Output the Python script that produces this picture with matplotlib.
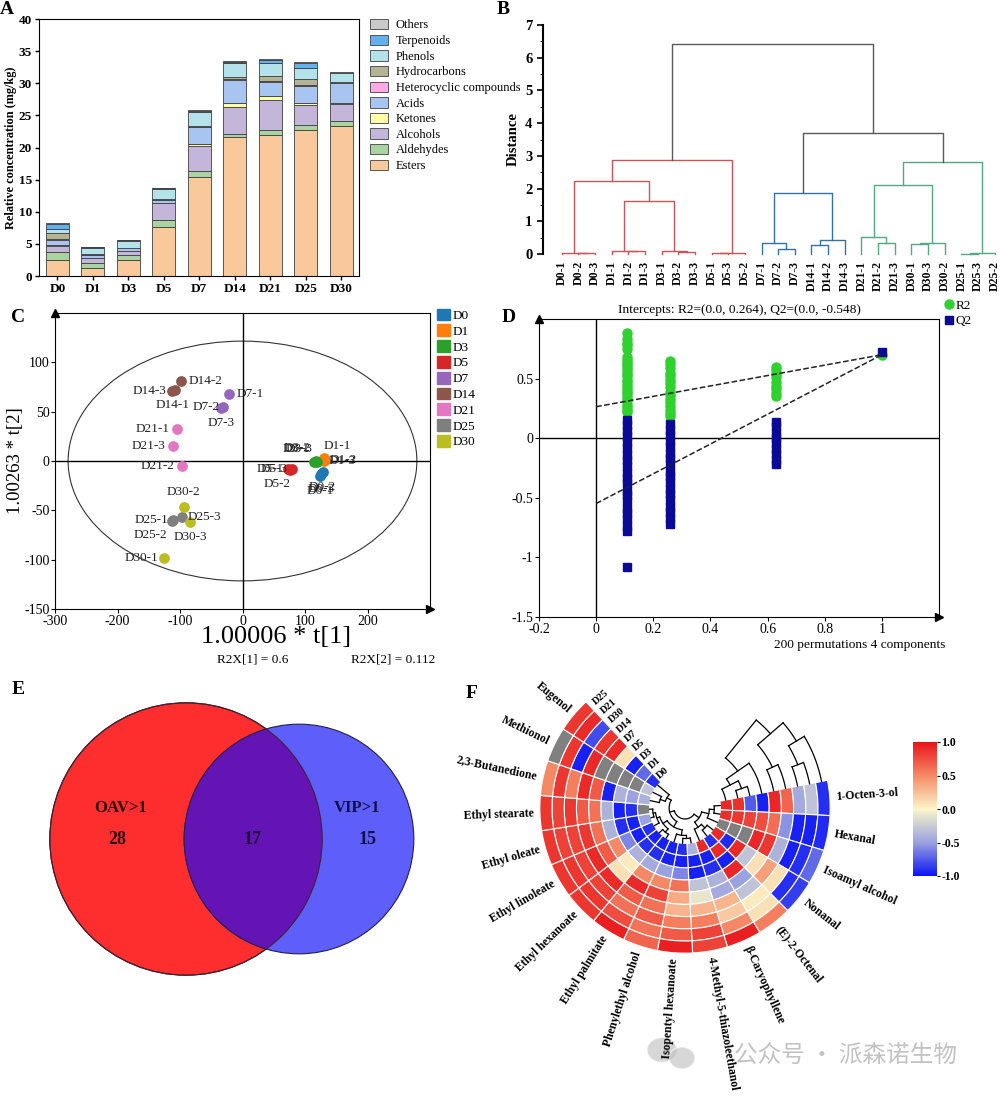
import numpy as np
import matplotlib
matplotlib.use('Agg')
import matplotlib.pyplot as plt
from matplotlib.patches import Circle, Ellipse
from matplotlib.colors import LinearSegmentedColormap, Normalize
from matplotlib.cm import ScalarMappable

plt.rcParams['font.family'] = ['Liberation Serif', 'DejaVu Serif']
plt.rcParams['axes.unicode_minus'] = False

# ---------------- A: stacked bars ----------------
days = ['D0', 'D1', 'D3', 'D5', 'D7', 'D14', 'D21', 'D25', 'D30']
classes = ['Esters', 'Aldehydes', 'Alcohols', 'Ketones', 'Acids', 'Heterocyclic compounds',
           'Hydrocarbons', 'Phenols', 'Terpenoids', 'Others']
esters = [2.5, 1.2, 2.5, 7.6, 15.4, 21.7, 22.0, 22.8, 23.4]
aldehydes = [1.2, 0.8, 0.7, 1.15, 1.0, 0.4, 0.7, 0.7, 0.65]
alcohols = [1.0, 0.75, 0.7, 2.6, 3.85, 4.2, 4.7, 3.15, 2.7]
ketones = [0.05, 0.05, 0.05, 0.05, 0.35, 0.6, 0.6, 0.25, 0.25]
acids = [0.9, 0.5, 0.35, 0.4, 2.6, 3.6, 2.2, 2.7, 3.0]
heterocyclic = [0.05, 0.02, 0.02, 0.05, 0.05, 0.1, 0.1, 0.1, 0.1]
hydrocarbons = [1.0, 0.1, 0.1, 0.2, 0.15, 0.3, 0.9, 0.9, 0.15]
phenols = [0.65, 1.0, 1.1, 1.5, 2.2, 2.2, 2.0, 1.7, 1.3]
terpenoids = [0.75, 0.05, 0.05, 0.1, 0.15, 0.15, 0.4, 0.9, 0.1]
others = [0.15, 0.05, 0.05, 0.05, 0.1, 0.15, 0.2, 0.1, 0.1]
class_colors = ['#f9c89b', '#a9d4a2', '#c3b6da', '#ffffa6', '#a8c4f0', '#ffa8e8',
                '#b4b394', '#b3e2ea', '#62b0f0', '#c9c9c9']

# ---------------- B: HCA dendrogram ----------------
leaf_names = ['D0-1', 'D0-2', 'D0-3', 'D1-1', 'D1-2', 'D1-3', 'D3-1', 'D3-2', 'D3-3',
              'D5-1', 'D5-3', 'D5-2', 'D7-1', 'D7-2', 'D7-3', 'D14-1', 'D14-2', 'D14-3',
              'D21-1', 'D21-2', 'D21-3', 'D30-1', 'D30-3', 'D30-2', 'D25-1', 'D25-3', 'D25-2']
# (left, right, distance); ints are leaf indices
hca_tree = (
    (((0, (1, 2, 0.02), 0.04),
      ((3, (4, 5, 0.08), 0.10), (6, (7, 8, 0.06), 0.08), 1.63), 2.22),
     ((9, 10, 0.02), 11, 0.03), 2.88),
    (((12, (13, 14, 0.16), 0.34), ((15, 16, 0.28), 17, 0.44), 1.86),
     (((18, (19, 20, 0.34), 0.51), ((21, 22, 0.31), 23, 0.34), 2.12),
      ((24, 25, 0.01), 26, 0.02), 2.80), 3.71),
    6.42)
hca_groups = {'D0': 0, 'D1': 0, 'D3': 0, 'D5': 0, 'D7': 1, 'D14': 1, 'D21': 2, 'D30': 2, 'D25': 2}
hca_colors = ['#c9545a', '#3571a6', '#55a884']

# ---------------- C: PCA scores ----------------
pca_names = ['D0-1', 'D0-2', 'D0-3', 'D1-1', 'D1-2', 'D1-3', 'D3-1', 'D3-2', 'D3-3',
             'D5-1', 'D5-2', 'D5-3', 'D7-1', 'D7-2', 'D7-3', 'D14-1', 'D14-2', 'D14-3',
             'D21-1', 'D21-2', 'D21-3', 'D25-1', 'D25-2', 'D25-3', 'D30-1', 'D30-2', 'D30-3']
pca_t1 = [124, 128, 126, 130, 132, 131, 114, 117, 119, 72, 76, 79, -21, -32, -34,
          -108, -98, -113, -105, -97, -112, -112, -113, -97, -126, -94, -84]
pca_t2 = [-15, -11, -13, 3, 1, 0, -1, 0, -1, -8, -9, -8, 68, 55, 54,
          72, 81, 71, 32, -5, 15, -60, -61, -57, -98, -47, -62]
pca_groups = ['D0', 'D1', 'D3', 'D5', 'D7', 'D14', 'D21', 'D25', 'D30']
pca_colors = ['#1f77b4', '#ff7f0e', '#2ca02c', '#d62728', '#9467bd', '#8c564b',
              '#e377c2', '#7f7f7f', '#bcbd22']
t2_ellipse = (279, 121.5)

# ---------------- D: permutation test ----------------
perm_x = [0.109, 0.258, 0.630]
r2_perm = [
    [0.88, 0.83, 0.80, 0.78, 0.75, 0.68, 0.66, 0.63, 0.61, 0.59, 0.56, 0.54, 0.52, 0.49, 0.47,
     0.45, 0.42, 0.40, 0.38, 0.35, 0.33, 0.31, 0.28, 0.26, 0.24, 0.22],
    [0.65, 0.62, 0.59, 0.55, 0.52, 0.49, 0.46, 0.43, 0.39, 0.36, 0.33, 0.30, 0.27, 0.24, 0.21, 0.19],
    [0.60, 0.57, 0.54, 0.51, 0.47, 0.44, 0.41, 0.38, 0.35]]
q2_perm = [
    [0.15, 0.11, 0.06, 0.02, -0.03, -0.08, -0.14, -0.18, -0.23, -0.29, -0.33, -0.38, -0.44,
     -0.48, -0.53, -0.59, -0.63, -0.68, -0.74, -0.78, -1.08],
    [0.12, 0.07, 0.03, -0.02, -0.07, -0.13, -0.17, -0.22, -0.28, -0.32, -0.37, -0.43, -0.47,
     -0.52, -0.58, -0.62, -0.67, -0.72],
    [0.14, 0.10, 0.04, 0.00, -0.04, -0.09, -0.13, -0.18, -0.22]]
r2_obs, q2_obs = 0.70, 0.72
r2_intercept, q2_intercept = 0.264, -0.548

# ---------------- E: Venn ----------------
venn_labels = ['OAV>1', 'VIP>1']
venn_counts = [28, 17, 15]  # OAV only, shared, VIP only

# ---------------- F: circular heatmap ----------------
compounds = ['1-Octen-3-ol', 'Hexanal', 'Isoamyl alcohol', 'Nonanal', '(E)-2-Octenal',
             'β-Caryophyllene', '4-Methyl-5-thiazoleethanol', 'Isopentyl hexanoate',
             'Phenylethyl alcohol', 'Ethyl palmitate', 'Ethyl hexanoate', 'Ethyl linoleate',
             'Ethyl oleate', 'Ethyl stearate', '2,3-Butanedione', 'Methionol', 'Eugenol']
rings = ['D0', 'D1', 'D3', 'D5', 'D7', 'D14', 'D30', 'D21', 'D25']
nan = np.nan
heat = np.array([
    [0.92, 0.88, -0.75, -0.95, 0.92, 0.65, -0.45, -0.30, -0.90],
    [0.88, 0.85, 0.80, 0.75, 0.62, -0.55, -0.95, -0.95, -0.92],
    [nan, nan, nan, 0.92, 0.85, -0.40, -0.95, -0.90, -0.70],
    [0.90, -0.92, 0.90, -0.30, 0.10, 0.40, 0.10, -0.90, -0.85],
    [-0.90, 0.90, -0.95, 0.92, -0.50, -0.30, 0.05, 0.10, 0.55],
    [0.90, -0.95, -0.90, -0.40, -0.45, 0.30, 0.20, 0.50, 0.95],
    [-0.40, -0.95, -0.95, -0.30, -0.10, 0.30, 0.55, 0.80, 0.80],
    [-0.90, -0.95, -0.60, 0.60, 0.35, 0.30, 0.55, 0.70, 0.95],
    [-0.95, -0.95, -0.50, 0.50, 0.80, 0.60, 0.70, 0.60, 0.65],
    [-0.95, -0.90, -0.45, 0.50, 0.90, 0.70, 0.60, 0.75, 0.95],
    [-0.95, -0.90, -0.40, 0.05, 0.10, 0.90, 0.80, 0.85, 0.85],
    [-0.90, -0.95, -0.60, 0.50, 0.70, 0.90, 0.80, 0.85, 0.85],
    [-0.50, -0.95, -0.90, -0.40, 0.60, 0.85, 0.80, 0.80, 0.85],
    [nan, -0.90, -0.95, -0.40, 0.60, 0.70, 0.85, 0.80, 0.85],
    [-0.40, -0.50, -0.40, -0.95, 0.70, 0.90, 0.55, 0.85, 0.50],
    [-0.30, nan, nan, nan, nan, 0.90, -0.95, 0.85, nan],
    [-0.90, -0.70, -0.95, 0.10, 0.90, 0.85, -0.80, 0.90, 0.85],
])
cmp_tree = ((((0, 1, 1.0), 2, 1.8), ((3, 4, 1.2), 5, 2.0), 3.0),
            ((((6, 7, 0.8), 8, 1.3), ((9, 10, 0.7), (11, (12, 13, 0.5), 0.9), 1.4), 2.2),
             ((14, 15, 1.5), 16, 2.4), 3.2), 4.0)
ring_tree = (((0, (1, 2, 8), 16), 3, 24), ((4, 5, 14), ((6, 7, 10), 8, 20), 30), 40)


fig = plt.figure(figsize=(10, 11), dpi=100)


def rect(x0, y0, x1, y1):
    return [x0 / 1000, 1 - y1 / 1100, (x1 - x0) / 1000, (y1 - y0) / 1100]


def ftext(x, y, s, **kw):
    fig.text(x / 1000, 1 - y / 1100, s, **kw)


for lab, (px, py) in zip('ABCDEF', [(7, 9), (503, 9), (18, 318), (509, 318), (18, 690), (472, 693)]):
    ftext(px, py, lab, fontsize=14, fontweight='bold', ha='center', va='center')

# ---- A
axA = fig.add_axes(rect(39, 19, 359, 276))
xpos = np.arange(len(days))
layers = [esters, aldehydes, alcohols, ketones, acids, heterocyclic, hydrocarbons,
          phenols, terpenoids, others]
bottom = np.zeros(len(days))
handles = []
for name, vals, col in zip(classes, layers, class_colors):
    b = axA.bar(xpos, vals, 0.65, bottom=bottom, color=col, edgecolor='#404040',
                linewidth=0.6, label=name)
    handles.append(b)
    bottom += np.array(vals)
axA.set_xlim(-0.52, 8.5)
axA.set_ylim(0, 40)
axA.set_yticks(range(0, 41, 5))
axA.set_xticks(xpos)
axA.set_xticklabels(days)
for t in axA.get_xticklabels() + axA.get_yticklabels():
    t.set_fontweight('bold')
    t.set_fontsize(9.5)
axA.tick_params(direction='out', length=3, width=1, pad=2)
axA.set_ylabel('Relative concentration (mg/kg)', fontsize=8.8, fontweight='bold', labelpad=1)
axA.legend(handles[::-1], classes[::-1], loc='upper left', bbox_to_anchor=(1.034, 1.0),
           frameon=False, fontsize=9, borderaxespad=0, borderpad=0, handlelength=1.45,
           handleheight=0.9, labelspacing=0.25, handletextpad=0.6)

# ---- B
axB = fig.add_axes(rect(543, 25, 998, 254))


def draw_hca(node):
    if isinstance(node, int):
        return float(node), 0.0, [node]
    left, right, h = node
    xl, hl, ll = draw_hca(left)
    xr, hr, lr = draw_hca(right)
    leaves = ll + lr
    grp = {hca_groups[leaf_names[i].split('-')[0]] for i in leaves}
    col = hca_colors[grp.pop()] if len(grp) == 1 else '#5a5a5a'
    axB.plot([xl, xl, xr, xr], [hl, h, h, hr], color=col, lw=1.0, clip_on=False)
    return (xl + xr) / 2, h, leaves


draw_hca(hca_tree)
axB.set_xlim(-1.12, 26.2)
axB.set_ylim(0, 7)
axB.set_yticks(range(0, 8))
axB.set_yticks(np.arange(0.5, 7, 1), minor=True)
axB.set_xticks(range(len(leaf_names)))
axB.set_xticklabels(leaf_names, rotation=90, fontsize=8.5, fontweight='bold')
for t in axB.get_yticklabels():
    t.set_fontweight('bold')
    t.set_fontsize(10.5)
axB.tick_params(axis='x', length=0, pad=5)
axB.tick_params(axis='y', direction='out', length=4, width=1.2)
axB.tick_params(axis='y', which='minor', length=2.5)
for s in ['top', 'right', 'bottom']:
    axB.spines[s].set_visible(False)
axB.spines['left'].set_linewidth(1.5)
axB.set_ylabel('Distance', fontsize=10.5, fontweight='bold', labelpad=4)

# ---- C
axC = fig.add_axes(rect(55, 313, 430, 609))
axC.set_xlim(-300, 300)
axC.set_ylim(-150, 150)
axC.axhline(0, color='k', lw=1)
axC.axvline(0, color='k', lw=1)
axC.add_patch(Ellipse((0, 0), 2 * t2_ellipse[0], 2 * t2_ellipse[1], fill=False,
                      edgecolor='#333333', lw=0.8))
leg_handles = []
for g, col in zip(pca_groups, pca_colors):
    idx = [i for i, n in enumerate(pca_names) if n.split('-')[0] == g]
    axC.scatter([pca_t1[i] for i in idx], [pca_t2[i] for i in idx], s=45, color=col, zorder=3)
    leg_handles.append(plt.Rectangle((0, 0), 1, 1, color=col))
lab_off = {
    'D0-1': ('center', 0, -11), 'D0-2': ('center', 0, -11), 'D0-3': ('center', 0, -11),
    'D1-1': ('left', 0, 9), 'D1-2': ('left', 3, 0), 'D1-3': ('left', 3, 0),
    'D3-1': ('center', -13, 9), 'D3-2': ('center', -13, 9), 'D3-3': ('center', -13, 9),
    'D5-1': ('right', -3, 0), 'D5-3': ('right', -3, 0), 'D5-2': ('center', -9, -10),
    'D7-1': ('left', 5, 0), 'D7-2': ('right', -2, 0), 'D7-3': ('center', 0, -11),
    'D14-1': ('center', -2, -11), 'D14-2': ('left', 5, 0), 'D14-3': ('right', -4, 0),
    'D21-1': ('right', -5, 0), 'D21-2': ('right', -5, 0), 'D21-3': ('right', -5, 0),
    'D25-1': ('right', -3, 0), 'D25-2': ('right', -3, -10), 'D25-3': ('left', 4, 0),
    'D30-1': ('right', -4, 0), 'D30-2': ('center', 0, 11), 'D30-3': ('center', 0, -11)}
for n, xv, yv in zip(pca_names, pca_t1, pca_t2):
    ha, dx, dy = lab_off[n]
    axC.annotate(n, (xv, yv), xytext=(dx, dy), textcoords='offset points', ha=ha,
                 va='center', fontsize=9.5, color='#222222')
axC.set_xticks(range(-300, 201, 100))
axC.set_yticks(range(-150, 101, 50))
axC.tick_params(direction='out', length=3, labelsize=10, pad=1)
axC.plot(0, 1, '^', transform=axC.transAxes, color='k', ms=6, clip_on=False)
axC.plot(1, 0, '>', transform=axC.transAxes, color='k', ms=6, clip_on=False)
axC.set_xlabel('1.00006 * t[1]', fontsize=19)
axC.xaxis.set_label_coords((276 - 55) / 375, -(626 - 609) / 296)
axC.set_ylabel('1.00263 * t[2]', fontsize=13.5, labelpad=0)
axC.legend(leg_handles, pca_groups, loc='upper left', bbox_to_anchor=(1.019, 1.015),
           frameon=False, fontsize=9.5, borderaxespad=0, borderpad=0, handlelength=1.0,
           handleheight=1.0, labelspacing=0.18, handletextpad=0.15)
ftext(253, 659, 'R2X[1] = 0.6', fontsize=9.5, ha='center', va='center')
ftext(393, 659, 'R2X[2] = 0.112', fontsize=9.5, ha='center', va='center')

# ---- D
axD = fig.add_axes(rect(539, 319, 939, 617))
axD.set_xlim(-0.2, 1.2)
axD.set_ylim(-1.5, 1.0)
axD.axhline(0, color='k', lw=1)
axD.axvline(0, color='k', lw=1)
green, navy = '#2fd12f', '#0a0a96'
for xv, vals in zip(perm_x, r2_perm):
    axD.plot([xv] * len(vals), vals, 'o', color=green, ms=6.5, zorder=3)
axD.plot([1.0], [r2_obs], 'o', color=green, ms=6.5, zorder=3)
for xv, vals in zip(perm_x, q2_perm):
    axD.plot([xv] * len(vals), vals, 's', color=navy, ms=6, zorder=4)
axD.plot([1.0], [q2_obs], 's', color=navy, ms=6, zorder=4)
axD.plot([0, 1], [r2_intercept, r2_obs], '--', color='#222222', lw=1.1, zorder=5)
axD.plot([0, 1], [q2_intercept, r2_obs], '--', color='#222222', lw=1.1, zorder=5)
axD.set_xticks([-0.2, 0, 0.2, 0.4, 0.6, 0.8, 1.0])
axD.set_xticklabels(['-0.2', '0', '0.2', '0.4', '0.6', '0.8', '1'])
axD.set_yticks([-1.5, -1, -0.5, 0, 0.5])
axD.set_yticklabels(['-1.5', '-1', '-0.5', '0', '0.5'])
axD.tick_params(direction='out', length=3, labelsize=10, pad=1)
axD.plot(0, 1, '^', transform=axD.transAxes, color='k', ms=6, clip_on=False)
axD.plot(1, 0, '>', transform=axD.transAxes, color='k', ms=6, clip_on=False)
axD.set_title('Intercepts: R2=(0.0, %.3f), Q2=(0.0, %.3f)' % (r2_intercept, q2_intercept),
              fontsize=9.6, pad=4)
hR = plt.Line2D([], [], marker='o', ls='', color=green, ms=6.5)
hQ = plt.Line2D([], [], marker='s', ls='', color=navy, ms=6)
axD.legend([hR, hQ], ['R2', 'Q2'], loc='upper left', bbox_to_anchor=(1.015, 1.065),
           frameon=False, fontsize=9.5, borderaxespad=0, borderpad=0, handlelength=0.6,
           handletextpad=0.2, labelspacing=0.25)
ftext(945, 645, '200 permutations 4 components', fontsize=9.6, ha='right', va='center')

# ---- E
axE = fig.add_axes(rect(0, 680, 440, 1000))
axE.set_xlim(0, 440)
axE.set_ylim(1000, 680)
axE.set_axis_off()
n_oav = venn_counts[0] + venn_counts[1]
n_vip = venn_counts[1] + venn_counts[2]
r_oav, r_vip = 20.3 * np.sqrt(n_oav), 20.3 * np.sqrt(n_vip)
c_red = Circle((186, 839), r_oav, facecolor='#ff2e2e', edgecolor='#40202a', lw=0.8)
c_blue = Circle((299, 839), r_vip, facecolor='#5e5efa', edgecolor='#202050', lw=0.8)
axE.add_patch(c_red)
axE.add_patch(c_blue)
c_mid = Circle((299, 839), r_vip, facecolor='#6414b4', edgecolor='#302050', lw=0.8)
axE.add_patch(c_mid)
c_mid.set_clip_path(c_red)
axE.add_patch(Circle((186, 839), r_oav, fill=False, edgecolor='#402030', lw=0.8))
txt = dict(fontweight='bold', ha='center', va='center')
axE.text(121, 808, venn_labels[0], fontsize=12, color='#2a0808', **txt)
axE.text(117, 840, str(venn_counts[0]), fontsize=13, color='#2a0808', **txt)
axE.text(253, 840, str(venn_counts[1]), fontsize=13, color='#1a0830', **txt)
axE.text(357, 808, venn_labels[1], fontsize=12, color='#10104a', **txt)
axE.text(368, 840, str(venn_counts[2]), fontsize=13, color='#10104a', **txt)

# ---- F
cmap = LinearSegmentedColormap.from_list('rb', [(0, '#0a14f5'), (0.25, '#9aa2e0'),
                                                (0.5, '#fbf5c8'), (0.75, '#f58a66'),
                                                (1, '#e8141a')])
norm = Normalize(-1, 1)
axF = fig.add_axes(rect(480, 603, 890, 1013), projection='polar')
axF.set_ylim(0, 205 / 12.2)
axF.set_axis_off()
hole = 2.9
th0 = np.deg2rad(11)
sec = np.deg2rad(14)
theta_mid = [th0 - sec * (k + 0.5) for k in range(len(compounds))]
for k, th in enumerate(theta_mid):
    for i in range(len(rings)):
        v = heat[k, i]
        col = '#808080' if np.isnan(v) else cmap(norm(v))
        axF.bar(th, 1, width=sec, bottom=hole + i, color=col, edgecolor='white', linewidth=0.8)
    deg = np.rad2deg(th)
    deg_n = (deg + 180) % 360 - 180
    if np.cos(th) >= 0:
        axF.text(th, hole + len(rings) + 0.5, compounds[k], rotation=deg_n, ha='left', va='center',
                 rotation_mode='anchor', fontsize=8.5, fontweight='bold')
    else:
        axF.text(th, hole + len(rings) + 0.5, compounds[k], rotation=deg_n + 180, ha='right',
                 va='center', rotation_mode='anchor', fontsize=8.5, fontweight='bold')
for i, rn in enumerate(rings):
    axF.text(np.deg2rad(131), hole + i + 0.5, rn, rotation=41, ha='left', va='center',
             rotation_mode='anchor', fontsize=7.5, fontweight='bold')


def draw_inner(node):
    if isinstance(node, int):
        return theta_mid[node], hole
    left, right, h = node
    tl, rl = draw_inner(left)
    tr, rr = draw_inner(right)
    rm = hole - 0.5 * h
    axF.plot([tl, tl], [rl, rm], color='k', lw=0.9)
    axF.plot([tr, tr], [rr, rm], color='k', lw=0.9)
    axF.plot(np.linspace(tl, tr, 40), [rm] * 40, color='k', lw=0.9)
    return (tl + tr) / 2, rm


def draw_outer(node):
    if isinstance(node, int):
        return hole + node + 0.5, 0.0
    left, right, h = node
    rl, hl = draw_outer(left)
    rr, hr = draw_outer(right)
    a = th0 + np.deg2rad(h)
    axF.plot(np.linspace(th0 + np.deg2rad(hl), a, 30), [rl] * 30, color='k', lw=0.9)
    axF.plot(np.linspace(th0 + np.deg2rad(hr), a, 30), [rr] * 30, color='k', lw=0.9)
    axF.plot([a, a], [rl, rr], color='k', lw=0.9)
    return (rl + rr) / 2, h


draw_inner(cmp_tree)
draw_outer(ring_tree)

cax = fig.add_axes(rect(913, 742, 937, 876))
cb = fig.colorbar(ScalarMappable(norm=norm, cmap=cmap), cax=cax, ticks=[-1, -0.5, 0, 0.5, 1])
cb.outline.set_visible(False)
cb.ax.set_yticklabels(['-1.0', '-0.5', '0.0', '0.5', '1.0'])
for t in cb.ax.get_yticklabels():
    t.set_fontweight('bold')
    t.set_fontsize(8.5)
cb.ax.tick_params(length=2, pad=1)

# watermark (faint, behind the labels)
for cx, cy, w, h in [(6.62, 0.50, 0.30, 0.25), (6.82, 0.42, 0.26, 0.22)]:
    fig.add_artist(Ellipse((cx, cy), w, h, transform=fig.dpi_scale_trans, zorder=-1,
                           facecolor='#bdbdbd', edgecolor='white', lw=1, alpha=0.6))
ftext(845, 1055, '公众号 · 派森诺生物', fontsize=17, color='#a8a8a8', alpha=0.7, zorder=-1,
      ha='center', va='center', family=['Noto Sans CJK SC', 'DejaVu Sans'])

fig.savefig('out.png', dpi=100)
